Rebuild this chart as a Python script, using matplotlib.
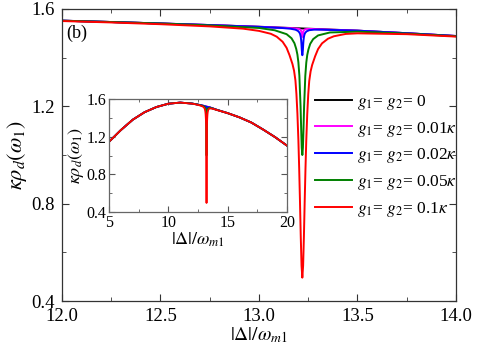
import numpy as np
import matplotlib
matplotlib.use('Agg')
import matplotlib.pyplot as plt
from matplotlib.ticker import MultipleLocator

plt.rcParams['font.family'] = 'serif'
plt.rcParams['font.serif'] = ['Liberation Serif', 'DejaVu Serif']
plt.rcParams['mathtext.fontset'] = 'stix'

# ---------------- data ----------------
# black: g1 = g2 = 0  (no dip)
x_black = [12.0, 12.25, 12.5, 12.75, 13.0, 13.22, 13.5, 13.75, 14.0]
y_black = [1.552, 1.5465, 1.5405, 1.534, 1.527, 1.520, 1.511, 1.5005, 1.489]

# magenta: g1 = g2 = 0.01 kappa
x_mag = [12.0, 12.25, 12.5, 12.75, 13.0, 13.17, 13.195, 13.207, 13.212, 13.215,
         13.217, 13.2185, 13.22, 13.2215, 13.223, 13.225, 13.228, 13.233,
         13.245, 13.27, 13.5, 13.75, 14.0]
y_mag = [1.552, 1.5465, 1.5405, 1.534, 1.527, 1.5211, 1.5193, 1.5169, 1.5133,
         1.5071, 1.4981, 1.4871, 1.485, 1.4869, 1.4979, 1.5069, 1.5129,
         1.5163, 1.5181, 1.5179, 1.511, 1.5005, 1.489]

# blue: g1 = g2 = 0.02 kappa
x_blue = [12.0, 12.25, 12.5, 12.75, 13.0, 13.12, 13.16, 13.185, 13.198, 13.205,
          13.209, 13.212, 13.214, 13.2155, 13.217, 13.2185, 13.22, 13.2215,
          13.223, 13.2245, 13.226, 13.228, 13.231, 13.235, 13.242, 13.255,
          13.28, 13.32, 13.5, 13.75, 14.0]
y_blue = [1.552, 1.5465, 1.5405, 1.534, 1.5265, 1.5217, 1.5189, 1.5151, 1.5097,
          1.5035, 1.4964, 1.4853, 1.4722, 1.4561, 1.4341, 1.4200, 1.410, 1.4198,
          1.4339, 1.4559, 1.4718, 1.4847, 1.4956, 1.5025, 1.5083, 1.5129,
          1.5151, 1.5150, 1.511, 1.5005, 1.489]

# green: g1 = g2 = 0.05 kappa
x_green = [12.0, 12.25, 12.5, 12.75, 13.0, 13.08, 13.14, 13.165, 13.18, 13.189,
           13.195, 13.2, 13.205, 13.208, 13.211, 13.214, 13.217, 13.22, 13.223,
           13.226, 13.229, 13.232, 13.235, 13.24, 13.245, 13.251, 13.26, 13.275,
           13.3, 13.36, 13.5, 13.75, 14.0]
y_green = [1.552, 1.5465, 1.5403, 1.5325, 1.522, 1.5125, 1.4966, 1.4798, 1.4593,
           1.436, 1.4128, 1.3806, 1.3255, 1.2604, 1.2003, 1.1102, 1.0301, 1.000,
           1.0299, 1.1098, 1.1997, 1.2596, 1.3245, 1.3794, 1.4112, 1.434, 1.4567,
           1.4762, 1.4914, 1.5035, 1.507, 1.499, 1.488]

# red: g1 = g2 = 0.1 kappa
x_red = [12.0, 12.25, 12.5, 12.75, 12.92, 13.0, 13.06, 13.09, 13.12, 13.14,
         13.155, 13.17, 13.178, 13.185, 13.19, 13.195, 13.2, 13.204, 13.208,
         13.212, 13.216, 13.22, 13.224, 13.228, 13.232, 13.236, 13.24, 13.245,
         13.25, 13.255, 13.262, 13.27, 13.285, 13.3, 13.32, 13.35, 13.38,
         13.44, 13.5, 13.75, 14.0]
y_red = [1.5505, 1.5447, 1.5375, 1.5285, 1.5191, 1.510, 1.4981, 1.4862, 1.4652,
         1.4406, 1.4101, 1.3736, 1.3463, 1.3061, 1.251, 1.1708, 1.0606, 0.9455,
         0.8104, 0.6653, 0.5451, 0.496, 0.5449, 0.6647, 0.8096, 0.9445, 1.0594,
         1.1692, 1.249, 1.3039, 1.3437, 1.3704, 1.4059, 1.4354, 1.4588, 1.4778,
         1.4879, 1.4975, 1.5, 1.4965, 1.4866]

# inset: wide range baseline outside 12..14 (same for all curves)
x_in_left = [5, 6, 7, 8, 9, 10, 11]
y_in_left = [1.145, 1.27, 1.38, 1.46, 1.515, 1.55, 1.562]
x_in_right = [15, 16, 17, 18, 19, 20]
y_in_right = [1.45, 1.405, 1.35, 1.275, 1.195, 1.105]

curves = [(x_black, y_black, 'black', r'$g_1$= $g_2$= 0'),
          (x_mag, y_mag, '#ff00ff', r'$g_1$= $g_2$= 0.01$\kappa$'),
          (x_blue, y_blue, '#0000ff', r'$g_1$= $g_2$= 0.02$\kappa$'),
          (x_green, y_green, '#008000', r'$g_1$= $g_2$= 0.05$\kappa$'),
          (x_red, y_red, '#ff0000', r'$g_1$= $g_2$= 0.1$\kappa$')]

# ---------------- figure ----------------
fig = plt.figure(figsize=(4.9, 3.54), dpi=100)
ax = fig.add_axes([0.1265, 0.1497, 0.8041, 0.8249])

lines = []
for xx, yy, c, lab in curves:
    l, = ax.plot(xx, yy, color=c, lw=1.4, label=lab)
    lines.append(l)

ax.set_xlim(12.0, 14.0)
ax.set_ylim(0.4, 1.6)
ax.xaxis.set_major_locator(MultipleLocator(0.5))
ax.xaxis.set_minor_locator(MultipleLocator(0.25))
ax.yaxis.set_major_locator(MultipleLocator(0.4))
ax.yaxis.set_minor_locator(MultipleLocator(0.2))
ax.xaxis.set_major_formatter(plt.FormatStrFormatter('%.1f'))
ax.yaxis.set_major_formatter(plt.FormatStrFormatter('%.1f'))
ax.tick_params(which='both', direction='in', top=True, right=True,
               labelsize=13.5, pad=5, color='#333333')
ax.tick_params(which='major', length=5)
ax.tick_params(which='minor', length=3)
for s in ax.spines.values():
    s.set_color('#333333')
    s.set_linewidth(0.9)
ax.set_xlabel(r'$|\Delta|/\omega_{m1}$', fontsize=14, labelpad=0)
ax.set_ylabel(r'$\kappa\rho_d(\omega_1)$', fontsize=16, labelpad=2)
ax.text(0.01, 0.915, '(b)', transform=ax.transAxes, fontsize=13, va='center')

ax.legend(handles=lines, loc='upper left', bbox_to_anchor=(0.643, 0.738),
          bbox_transform=fig.transFigure, frameon=False, fontsize=12.5,
          handlelength=2.1, handletextpad=0.3, labelspacing=0.45,
          borderpad=0, borderaxespad=0)

# inset
axi = fig.add_axes([0.2224, 0.4011, 0.3633, 0.3192])
for xx, yy, c, lab in curves:
    axi.plot(x_in_left + xx + x_in_right, y_in_left + yy + y_in_right,
             color=c, lw=1.3)
axi.set_xlim(5, 20)
axi.set_ylim(0.4, 1.6)
axi.xaxis.set_major_locator(MultipleLocator(5))
axi.xaxis.set_minor_locator(MultipleLocator(2.5))
axi.yaxis.set_major_locator(MultipleLocator(0.4))
axi.yaxis.set_minor_locator(MultipleLocator(0.2))
axi.yaxis.set_major_formatter(plt.FormatStrFormatter('%.1f'))
axi.tick_params(which='both', direction='in', top=True, right=True,
                labelsize=11.5, pad=2, color='#555555')
axi.tick_params(which='major', length=4)
axi.tick_params(which='minor', length=2)
for s in axi.spines.values():
    s.set_color('#666666')
    s.set_linewidth(0.9)
axi.set_xlabel(r'$|\Delta|/\omega_{m1}$', fontsize=13, labelpad=0)
axi.set_ylabel(r'$\kappa\rho_d(\omega_1)$', fontsize=13, labelpad=0)

fig.savefig('out.png', dpi=100)
